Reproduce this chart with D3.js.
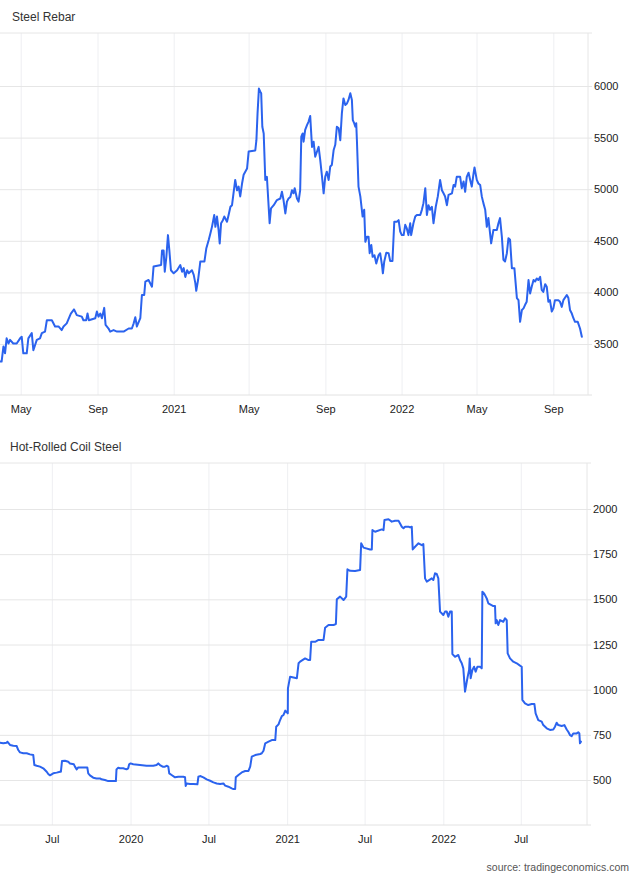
<!DOCTYPE html>
<html><head><meta charset="utf-8">
<script src="https://cdn.jsdelivr.net/npm/d3@7"></script>
<style>body{margin:0;background:#fff;} svg{display:block;font-family:"Liberation Sans",Arial,Helvetica,sans-serif;}</style>
</head><body><svg id="c" width="640" height="878"></svg>
<script>
// dates as decimal years
const rebar = [[2020.240,3330],[2020.247,3330],[2020.255,3475],[2020.262,3410],[2020.269,3555],[2020.277,3505],[2020.284,3540],[2020.298,3505],[2020.313,3505],[2020.328,3555],[2020.335,3570],[2020.342,3410],[2020.357,3410],[2020.364,3555],[2020.379,3605],[2020.386,3440],[2020.401,3540],[2020.415,3555],[2020.423,3605],[2020.437,3620],[2020.445,3730],[2020.467,3730],[2020.481,3670],[2020.496,3670],[2020.510,3635],[2020.518,3670],[2020.532,3700],[2020.550,3795],[2020.564,3835],[2020.576,3780],[2020.598,3765],[2020.605,3730],[2020.617,3730],[2020.623,3795],[2020.629,3730],[2020.657,3750],[2020.664,3815],[2020.671,3765],[2020.679,3795],[2020.686,3750],[2020.696,3850],[2020.702,3685],[2020.715,3650],[2020.722,3620],[2020.737,3635],[2020.752,3620],[2020.781,3620],[2020.803,3650],[2020.817,3650],[2020.825,3700],[2020.832,3760],[2020.839,3670],[2020.854,3750],[2020.861,3975],[2020.871,3975],[2020.876,4105],[2020.890,4120],[2020.905,4055],[2020.912,4250],[2020.945,4265],[2020.949,4405],[2020.956,4405],[2020.961,4200],[2020.968,4345],[2020.975,4555],[2020.981,4410],[2020.988,4215],[2021.000,4185],[2021.015,4215],[2021.029,4265],[2021.037,4200],[2021.044,4235],[2021.051,4150],[2021.059,4215],[2021.066,4185],[2021.080,4215],[2021.088,4170],[2021.095,4090],[2021.099,4015],[2021.107,4120],[2021.117,4300],[2021.135,4300],[2021.143,4425],[2021.154,4510],[2021.161,4570],[2021.168,4635],[2021.178,4750],[2021.183,4635],[2021.190,4735],[2021.197,4605],[2021.202,4475],[2021.208,4670],[2021.216,4700],[2021.222,4735],[2021.234,4685],[2021.241,4750],[2021.249,4830],[2021.256,4845],[2021.270,5090],[2021.278,4990],[2021.285,5025],[2021.292,4930],[2021.300,5055],[2021.307,5140],[2021.322,5200],[2021.329,5365],[2021.358,5375],[2021.363,5475],[2021.368,5735],[2021.374,5975],[2021.380,5945],[2021.384,5930],[2021.389,5605],[2021.395,5540],[2021.402,5090],[2021.409,5120],[2021.421,4670],[2021.427,4815],[2021.439,4845],[2021.453,4895],[2021.468,4910],[2021.475,4975],[2021.482,4895],[2021.490,4765],[2021.497,4880],[2021.504,4910],[2021.512,4925],[2021.519,4990],[2021.526,4960],[2021.531,5010],[2021.541,4910],[2021.548,4880],[2021.555,4990],[2021.560,5510],[2021.566,5540],[2021.570,5460],[2021.577,5575],[2021.585,5620],[2021.592,5655],[2021.599,5710],[2021.607,5410],[2021.614,5460],[2021.621,5315],[2021.629,5365],[2021.636,5410],[2021.643,5285],[2021.651,5120],[2021.658,4960],[2021.665,5120],[2021.672,5170],[2021.680,5090],[2021.687,5220],[2021.694,5235],[2021.702,5380],[2021.709,5430],[2021.716,5605],[2021.724,5590],[2021.731,5475],[2021.738,5735],[2021.745,5880],[2021.753,5815],[2021.760,5830],[2021.767,5865],[2021.775,5930],[2021.782,5865],[2021.786,5670],[2021.792,5640],[2021.797,5605],[2021.801,5640],[2021.804,5475],[2021.811,5025],[2021.819,4930],[2021.829,4735],[2021.836,4800],[2021.841,4490],[2021.848,4540],[2021.855,4540],[2021.860,4380],[2021.867,4460],[2021.873,4345],[2021.881,4360],[2021.889,4280],[2021.899,4360],[2021.906,4380],[2021.914,4265],[2021.918,4185],[2021.924,4300],[2021.933,4385],[2021.943,4380],[2021.950,4305],[2021.960,4305],[2021.968,4685],[2021.979,4685],[2021.987,4700],[2021.994,4590],[2022.001,4555],[2022.009,4555],[2022.016,4655],[2022.023,4620],[2022.030,4555],[2022.038,4670],[2022.042,4555],[2022.052,4670],[2022.060,4735],[2022.067,4750],[2022.082,4750],[2022.089,4800],[2022.096,4865],[2022.104,5010],[2022.111,4750],[2022.118,4845],[2022.125,4800],[2022.133,4830],[2022.140,4670],[2022.150,4830],[2022.159,4930],[2022.169,5090],[2022.177,4990],[2022.184,4960],[2022.191,4930],[2022.199,4845],[2022.206,4945],[2022.221,4960],[2022.228,5040],[2022.235,5025],[2022.242,5120],[2022.257,5120],[2022.264,5010],[2022.272,5075],[2022.279,4975],[2022.286,5120],[2022.294,5160],[2022.301,5090],[2022.308,5025],[2022.316,5155],[2022.320,5210],[2022.330,5090],[2022.337,5055],[2022.345,5040],[2022.352,4930],[2022.359,4865],[2022.367,4800],[2022.374,4635],[2022.381,4720],[2022.393,4475],[2022.403,4605],[2022.418,4605],[2022.425,4670],[2022.432,4720],[2022.440,4540],[2022.447,4315],[2022.454,4300],[2022.462,4380],[2022.469,4525],[2022.476,4510],[2022.484,4235],[2022.495,4235],[2022.506,3945],[2022.513,3925],[2022.520,3715],[2022.528,3830],[2022.535,3845],[2022.542,3880],[2022.549,3910],[2022.557,4120],[2022.564,3990],[2022.571,4055],[2022.579,4120],[2022.586,4105],[2022.593,4135],[2022.600,4120],[2022.608,4150],[2022.615,4025],[2022.622,4005],[2022.630,4080],[2022.637,4055],[2022.644,3910],[2022.651,3925],[2022.659,3815],[2022.666,3845],[2022.673,3925],[2022.688,3925],[2022.695,3910],[2022.703,3860],[2022.710,3925],[2022.725,3975],[2022.732,3945],[2022.739,3830],[2022.747,3795],[2022.754,3750],[2022.761,3715],[2022.773,3715],[2022.783,3650],[2022.791,3570]];

const hrc = [[2019.164,706],[2019.185,703],[2019.207,706],[2019.211,712],[2019.228,694],[2019.249,690],[2019.271,688],[2019.281,666],[2019.292,653],[2019.313,648],[2019.335,648],[2019.356,642],[2019.377,638],[2019.384,583],[2019.399,579],[2019.420,574],[2019.441,565],[2019.463,546],[2019.473,533],[2019.484,526],[2019.505,537],[2019.527,541],[2019.548,546],[2019.554,546],[2019.561,605],[2019.580,607],[2019.601,601],[2019.612,592],[2019.637,587],[2019.644,574],[2019.655,559],[2019.665,570],[2019.697,570],[2019.723,570],[2019.729,537],[2019.740,526],[2019.761,513],[2019.782,509],[2019.804,509],[2019.814,504],[2019.836,500],[2019.857,494],[2019.878,494],[2019.906,494],[2019.910,559],[2019.921,568],[2019.932,565],[2019.953,565],[2019.974,559],[2019.985,565],[2019.991,587],[2020.000,592],[2020.017,587],[2020.060,583],[2020.102,579],[2020.145,579],[2020.166,583],[2020.177,592],[2020.188,583],[2020.205,574],[2020.220,574],[2020.230,579],[2020.241,574],[2020.247,537],[2020.262,528],[2020.284,515],[2020.305,518],[2020.337,518],[2020.348,515],[2020.352,467],[2020.358,481],[2020.380,478],[2020.401,478],[2020.427,476],[2020.433,518],[2020.444,522],[2020.465,515],[2020.486,504],[2020.508,496],[2020.529,487],[2020.550,481],[2020.572,478],[2020.593,481],[2020.604,469],[2020.625,463],[2020.646,454],[2020.657,450],[2020.668,450],[2020.672,515],[2020.689,528],[2020.710,542],[2020.732,550],[2020.753,550],[2020.764,574],[2020.774,629],[2020.796,638],[2020.828,644],[2020.838,648],[2020.849,662],[2020.860,703],[2020.881,712],[2020.902,721],[2020.924,721],[2020.930,795],[2020.945,808],[2020.955,832],[2020.966,854],[2020.977,860],[2020.988,884],[2021.004,869],[2021.005,1007],[2021.019,1072],[2021.062,1063],[2021.073,1146],[2021.083,1155],[2021.115,1173],[2021.137,1164],[2021.147,1164],[2021.154,1265],[2021.179,1265],[2021.201,1275],[2021.233,1275],[2021.243,1343],[2021.265,1358],[2021.297,1358],[2021.312,1363],[2021.318,1500],[2021.339,1515],[2021.361,1496],[2021.378,1515],[2021.386,1666],[2021.403,1658],[2021.435,1657],[2021.467,1662],[2021.474,1810],[2021.489,1786],[2021.531,1776],[2021.542,1776],[2021.546,1883],[2021.563,1874],[2021.606,1887],[2021.617,1883],[2021.623,1939],[2021.649,1943],[2021.670,1930],[2021.691,1935],[2021.713,1935],[2021.723,1920],[2021.734,1902],[2021.745,1893],[2021.755,1902],[2021.777,1902],[2021.787,1898],[2021.798,1902],[2021.804,1776],[2021.819,1791],[2021.841,1810],[2021.862,1800],[2021.872,1806],[2021.883,1616],[2021.894,1598],[2021.926,1616],[2021.936,1607],[2021.947,1644],[2021.958,1640],[2021.968,1616],[2021.979,1432],[2022.000,1413],[2022.011,1432],[2022.022,1432],[2022.032,1404],[2022.043,1432],[2022.054,1432],[2022.058,1197],[2022.075,1182],[2022.096,1192],[2022.107,1164],[2022.118,1146],[2022.128,1118],[2022.139,989],[2022.150,1044],[2022.156,1072],[2022.165,1109],[2022.169,1173],[2022.175,1063],[2022.186,1109],[2022.197,1127],[2022.207,1100],[2022.218,1127],[2022.235,1127],[2022.246,1118],[2022.250,1542],[2022.261,1533],[2022.278,1505],[2022.288,1478],[2022.320,1463],[2022.331,1463],[2022.335,1367],[2022.342,1385],[2022.352,1358],[2022.363,1385],[2022.384,1376],[2022.395,1395],[2022.406,1385],[2022.412,1201],[2022.427,1173],[2022.448,1155],[2022.470,1146],[2022.491,1133],[2022.502,1127],[2022.506,943],[2022.523,924],[2022.544,915],[2022.566,921],[2022.583,921],[2022.591,869],[2022.608,832],[2022.630,823],[2022.640,804],[2022.662,786],[2022.683,777],[2022.704,780],[2022.715,795],[2022.726,817],[2022.736,804],[2022.758,799],[2022.775,804],[2022.790,780],[2022.800,767],[2022.811,749],[2022.822,743],[2022.832,758],[2022.854,758],[2022.864,764],[2022.871,758],[2022.875,703],[2022.881,712]];

const rebarTicks = [3500, 4000, 4500, 5000, 5500, 6000];
const hrcTicks = [500, 750, 1000, 1250, 1500, 1750, 2000];
const titles = ["Steel Rebar", "Hot-Rolled Coil Steel"];
const sourceText = "source: tradingeconomics.com";

function toDate(t) {
  const y = Math.floor(t);
  const s = Date.UTC(y, 0, 1), e = Date.UTC(y + 1, 0, 1);
  return new Date(s + (t - y) * (e - s));
}
const fmt = d => d.getUTCMonth() === 0 ? d3.utcFormat("%Y")(d) : d3.utcFormat("%b")(d);

const svg = d3.select("#c");

function panel(cfg) {
  const g = svg.append("g");
  const x = d3.scaleUtc().domain([toDate(cfg.t0), toDate(cfg.t1)]).range([0, cfg.right]);
  const y = d3.scaleLinear().domain(cfg.yDomain).range(cfg.yRange);

  // vertical grid + x labels
  const xa = g.append("g").attr("transform", `translate(0,${cfg.axisY})`)
    .call(d3.axisBottom(x).ticks(d3.utcMonth.every(cfg.months)).tickFormat(fmt)
      .tickSize(-(cfg.axisY - cfg.frameTop)).tickSizeOuter(0).tickPadding(10));
  xa.select(".domain").remove();
  xa.selectAll(".tick line").attr("stroke", "#eeeff2");
  xa.selectAll(".tick text").attr("fill", "#222").style("font-size", "11px")
    .style("font-family", '"Liberation Sans",Arial,sans-serif');

  // horizontal grid + y labels
  const ya = g.append("g").attr("transform", `translate(${cfg.right + 4},0)`)
    .call(d3.axisRight(y).tickValues(cfg.ticks).tickFormat(d3.format("d"))
      .tickSize(-(cfg.right + 4)).tickSizeOuter(0).tickPadding(2));
  ya.select(".domain").remove();
  ya.selectAll(".tick line").attr("stroke", "#e6e6e6");
  ya.selectAll(".tick text").attr("fill", "#222").style("font-size", "11px")
    .style("font-family", '"Liberation Sans",Arial,sans-serif');

  // frame lines
  g.append("line").attr("x1", 0).attr("x2", cfg.right + 4).attr("y1", cfg.frameTop).attr("y2", cfg.frameTop).attr("stroke", "#e6e6e6");
  g.append("line").attr("x1", 0).attr("x2", cfg.right + 4).attr("y1", cfg.axisY).attr("y2", cfg.axisY).attr("stroke", "#e2e2e2");
  g.append("line").attr("x1", cfg.right).attr("x2", cfg.right).attr("y1", cfg.frameTop).attr("y2", cfg.axisY).attr("stroke", "#e6e6e6");

  // series
  g.append("path").datum(cfg.data)
    .attr("fill", "none").attr("stroke", "#2b63ee").attr("stroke-width", 2)
    .attr("stroke-linejoin", "round").attr("stroke-linecap", "round")
    .attr("d", d3.line().x(d => x(toDate(d[0]))).y(d => y(d[1])));

  // title
  svg.append("text").attr("x", cfg.titleX).attr("y", cfg.titleY).text(cfg.title)
    .attr("fill", "#333").style("font-size", "12px");
}

panel({data: rebar, ticks: rebarTicks, title: titles[0], titleX: 12, titleY: 21,
  t0: 2020.240, t1: 2022.818, right: 588, months: 4,
  yDomain: [3000, 6500], yRange: [395.6, 34.4], frameTop: 33, axisY: 395});

panel({data: hrc, ticks: hrcTicks, title: titles[1], titleX: 10, titleY: 451,
  t0: 2019.164, t1: 2022.920, right: 587, months: 6,
  yDomain: [250, 2250], yRange: [825.2, 463.8], frameTop: 463, axisY: 825});

svg.append("text").attr("x", 629).attr("y", 871).attr("text-anchor", "end")
  .text(sourceText).attr("fill", "#555").style("font-size", "10.5px");
</script>
</body></html>
